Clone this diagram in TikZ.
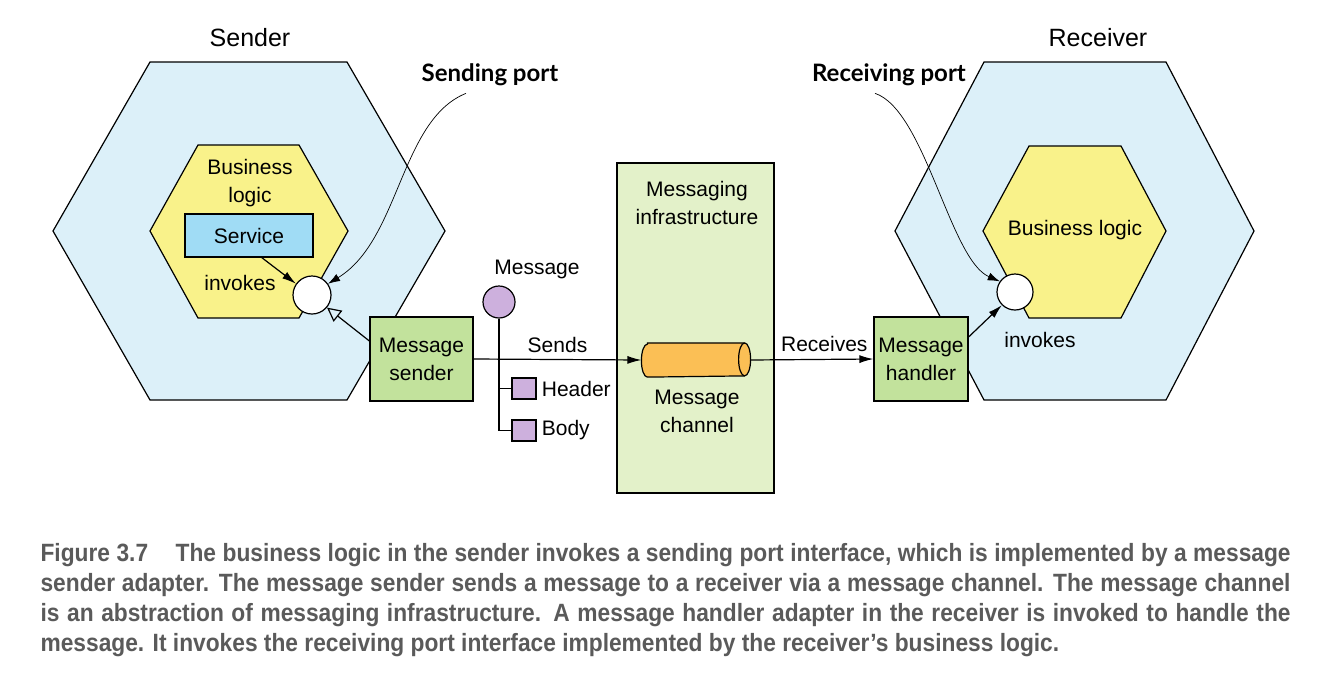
\documentclass[tikz,border=0pt]{standalone}
\usepackage{fontspec}
\setmainfont{Liberation Sans}
\newfontfamily\portfont{Lato}
\newfontfamily\capfont[FakeStretch=0.91]{Liberation Sans}
\usepackage{tikz}
\usetikzlibrary{arrows.meta,positioning,shapes.geometric}

\definecolor{hexblue}{HTML}{DCF0F9}
\definecolor{logicyellow}{HTML}{F9F28A}
\definecolor{svcblue}{HTML}{A0DCF5}
\definecolor{adgreen}{HTML}{C2E29C}
\definecolor{infragreen}{HTML}{E3F1C9}
\definecolor{chanorange}{HTML}{FBBF55}
\definecolor{msgpurple}{HTML}{CDB0DD}
\definecolor{capgray}{HTML}{5A5A5A}

\begin{document}
\begin{tikzpicture}[x=0.5pt, y=-0.5pt, line width=0.6pt, font=\fontsize{10.5}{14}\selectfont]
\tikzset{HexStyle/.style = {draw, fill=hexblue}}
\tikzset{LogicStyle/.style = {draw, fill=logicyellow}}
\tikzset{AdapterStyle/.style = {draw, fill=adgreen, minimum height=42pt, align=center, inner sep=0pt}}
\tikzset{PortStyle/.style = {draw, fill=white, circle, minimum size=19pt, inner sep=0pt}}
\tikzset{PartStyle/.style = {draw, fill=msgpurple, minimum width=12pt, minimum height=10.5pt, inner sep=0pt}}
\tikzset{TitleStyle/.style = {font=\fontsize{12.5}{15}\selectfont}}
\tikzset{CallStyle/.style = {font=\portfont\bfseries\fontsize{12}{14}\selectfont}}
\tikzset{EdgeStyle/.style = {-{Latex[length=7pt,width=4pt]}}}
\tikzset{NoteStyle/.style = {-{Latex[length=6pt,width=4pt]}, line width=0.35pt}}
\useasboundingbox[fill=white] (0,0) rectangle (1333,675);

\draw[HexStyle] (150,62) -- (347,62) -- (445,231) -- (347,400) -- (150,400) -- (53,231) -- cycle;
\draw[LogicStyle] (198,145) -- (299,145) -- (348,231) -- (299,318) -- (198,318) -- (150,231) -- cycle;
\draw[HexStyle] (984,62) -- (1166,62) -- (1254,231) -- (1166,400) -- (984,400) -- (895,231) -- cycle;
\draw[LogicStyle] (1029,146) -- (1121,146) -- (1166,231) -- (1121,318) -- (1029,318) -- (983,231) -- cycle;

\node[TitleStyle] (sender) at (250,38) {Sender};
\node[TitleStyle] (receiver) at (1098,38) {Receiver};
\node[CallStyle] (sp) at (490,75) {Sending port};
\node[CallStyle] (rp) at (889,75) {Receiving port};

\node[align=center] (slogic) at (250,183) {Business\\logic};
\node[draw, fill=svcblue, minimum width=64pt, minimum height=21.5pt] (svc) at (249,235.5) {Service};
\node (sinv) at (240,283) {invokes};
\node[PortStyle] (sport) at (312,295) {};
\node[AdapterStyle, minimum width=51.5pt] (snd) at (421.5,359) {Message\\sender};

\node[draw, fill=infragreen, minimum width=78.5pt, minimum height=165pt] (infra) at (695.5,328) {};
\node[align=center] (infratext) at (697,203) {Messaging\\infrastructure};
\node[minimum width=54pt, minimum height=16.5pt, inner sep=0pt] (chan) at (696,360) {};
\draw[fill=chanorange] ([xshift=3pt]chan.north west) -- ([xshift=-3pt]chan.north east)
  arc[start angle=90, end angle=-90, x radius=3pt, y radius=8.25pt] -- ([xshift=3pt]chan.south west)
  arc[start angle=270, end angle=90, x radius=3pt, y radius=8.25pt] -- cycle;
\draw ([xshift=-3pt]chan.north east) arc[start angle=90, end angle=270, x radius=3pt, y radius=8.25pt];
\node[align=center] (chantext) at (697,411) {Message\\channel};

\node[draw, fill=msgpurple, circle, minimum size=16pt, inner sep=0pt] (msg) at (499,302) {};
\node (msgtext) at (537,269) {Message};
\node[PartStyle] (hdr) at (524,388.5) {};
\node[PartStyle] (body) at (524,430.5) {};
\node[right=-1pt of hdr] (hdrtext) {Header};
\node[right=-1pt of body] (bodytext) {Body};

\node[AdapterStyle, minimum width=47pt] (hnd) at (921,359) {Message\\handler};
\node[align=center] (rlogic) at (1075,230) {Business logic};
\node[PortStyle, minimum size=18pt] (rport) at (1015,292) {};
\node (rinv) at (1040,340) {invokes};

\draw[EdgeStyle] (svc.-60) -- (sport.145);
\draw[-{Triangle[open,length=7pt,width=7pt]}] ([yshift=9pt]snd.west) -- (sport.-40);
\draw[NoteStyle] ([xshift=-12pt]sp.south) .. controls (400,120) and (400,240) .. (sport.35);
\draw[NoteStyle] ([xshift=-7pt]rp.south) .. controls (925,110) and (950,260) .. (rport.145);
\draw (msg.south) -- (msg.south |- body.west) -- (body.west);
\draw (msg.south |- hdr.west) -- (hdr.west);
\draw[EdgeStyle] (snd.east) -- node[above] {Sends} (chan.west);
\draw[EdgeStyle] (chan.east) -- node[above, pos=0.6] {Receives} (hnd.west);
\draw[EdgeStyle] ([yshift=11pt]hnd.east) -- (rport.225);

\node[anchor=north west, text width=625pt, align=justify, inner sep=0pt, text=capgray,
  font=\capfont\bfseries\fontsize{12.5}{15}\selectfont] (caption) at (40,543)
  {\hyphenpenalty=10000 Figure 3.7\hspace{1.1em}The business logic in the sender invokes a sending port interface, which is implemented by a message\linebreak
  sender adapter. The message sender sends a message to a receiver via a message channel. The message channel\linebreak
  is an abstraction of messaging infrastructure. A message handler adapter in the receiver is invoked to handle the\linebreak
  message. It invokes the receiving port interface implemented by the receiver’s business logic.};
\end{tikzpicture}
\end{document}
